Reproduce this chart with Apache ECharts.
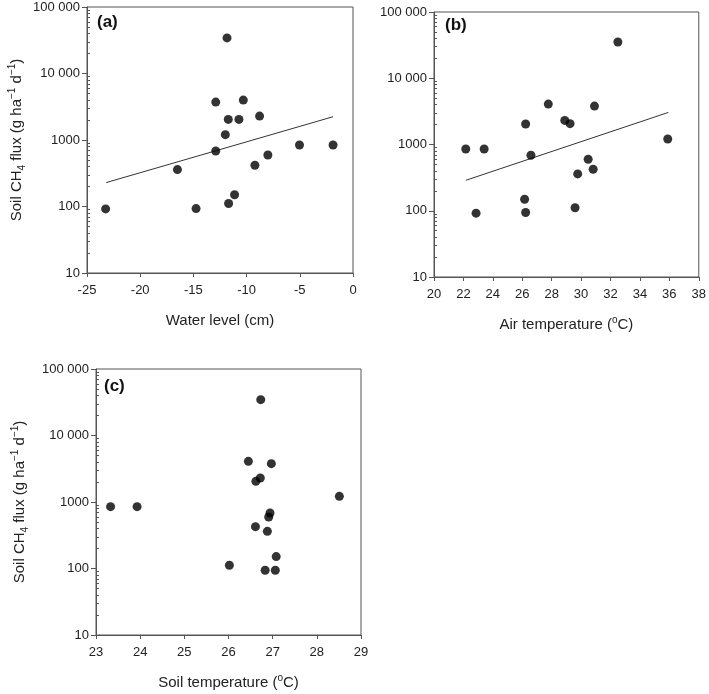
<!DOCTYPE html>
<html>
<head>
<meta charset="utf-8">
<script src="https://cdn.jsdelivr.net/npm/echarts@6/dist/echarts.min.js"></script>
<style>
html,body{margin:0;padding:0;background:#fff;}
#chart{width:709px;height:694px;}
</style>
</head>
<body>
<div id="chart"></div>
<script>
// ---- data ----
const waterLevel = [-23.25, -16.5, -14.75, -12.9, -12.9, -12.0, -11.84, -11.72, -11.69, -11.13, -10.72, -10.31, -9.22, -8.78, -8.0, -5.03, -1.875];
const fluxA      = [92, 359, 93, 3715, 684, 1202, 34300, 2042, 111, 150, 2042, 3981, 417, 2291, 596, 841, 841];
const fitAx = [-23.19, -1.875];
const fitAy = [229, 2239];

const airTemp = [22.16, 23.41, 22.86, 26.23, 26.16, 26.23, 26.59, 27.77, 28.89, 29.25, 29.59, 29.77, 30.48, 30.82, 30.91, 32.5, 35.89];
const fluxB   = [855, 855, 92, 2037, 149, 94, 687, 4074, 2311, 2061, 111, 360, 598, 423, 3802, 35300, 1211];
const fitBx = [22.18, 35.93];
const fitBy = [289, 3048];

const soilTemp = [23.33, 23.93, 26.02, 26.45, 26.73, 26.62, 26.72, 26.97, 26.94, 26.91, 26.61, 26.88, 27.08, 26.83, 27.06, 28.51];
const fluxC    = [851, 851, 112, 4090, 34600, 2046, 2296, 3770, 684, 595, 426, 362, 151, 94, 94, 1217];

const yTickLabels = {10: '10', 100: '100', 1000: '1000', 10000: '10 000', 100000: '100 000'};
const minorTickVals = [20,30,40,50,60,70,80,90,200,300,400,500,600,700,800,900,2000,3000,4000,5000,6000,7000,8000,9000,20000,30000,40000,50000,60000,70000,80000,90000];

const panelLabels = ['(a)', '(b)', '(c)'];
const xTitles = ['Water level (cm)', 'Air temperature ({sup|o}C)', 'Soil temperature ({sup|o}C)'];
const yTitle = 'Soil CH{sub|4} flux (g ha{sup|\u22121} d{sup|\u22121})';

// ---- styling ----
const FONT = 'Liberation Sans, Arial, sans-serif';
const AX = '#555';
const grids = [
  {left: 87, top: 7, width: 266, height: 266},
  {left: 434, top: 12, width: 266, height: 265},
  {left: 96, top: 369, width: 265, height: 266}
];
const richTitle = {
  sup: {fontSize: 10, verticalAlign: 'top', lineHeight: 10, fontFamily: FONT, color: '#222'},
  sub: {fontSize: 10, verticalAlign: 'bottom', lineHeight: 10, fontFamily: FONT, color: '#222'}
};

function xAxis(i, min, max, interval, name) {
  return {
    type: 'value', gridIndex: i, min: min, max: max, interval: interval, position: 'bottom',
    name: name, nameLocation: 'middle', nameGap: 38,
    nameTextStyle: {fontSize: 15, fontFamily: FONT, color: '#222', lineHeight: 20, rich: richTitle},
    axisLine: {show: true, onZero: false, lineStyle: {color: AX, width: 1}},
    axisTick: {show: true, inside: false, length: 4, lineStyle: {color: AX}},
    axisLabel: {fontSize: 13, fontFamily: FONT, color: '#222', margin: 11},
    splitLine: {show: false}
  };
}
function yAxis(i, name, gap) {
  return {
    type: 'log', logBase: 10, gridIndex: i, min: 10, max: 100000, position: 'left', offset: 0,
    name: name || '', nameLocation: 'middle', nameGap: gap || 0,
    nameTextStyle: {fontSize: 15, fontFamily: FONT, color: '#222', lineHeight: 20, rich: richTitle},
    axisLine: {show: true, onZero: false, lineStyle: {color: AX, width: 1}},
    axisTick: {show: true, inside: false, length: 5, lineStyle: {color: AX}},
    axisLabel: {fontSize: 13, fontFamily: FONT, color: '#222', margin: 7,
      formatter: v => yTickLabels[Math.round(v)] || ''},
    splitLine: {show: false}
  };
}
function yMinor(i) {
  return {
    type: 'log', logBase: 10, gridIndex: i, min: 10, max: 100000, position: 'left', offset: 0,
    axisLine: {show: false, onZero: false},
    axisLabel: {show: false},
    axisTick: {show: true, inside: true, length: 3, customValues: minorTickVals, lineStyle: {color: AX}},
    splitLine: {show: false}
  };
}

function scatter(xi, yi, xs, ys) {
  return {type: 'scatter', xAxisIndex: xi, yAxisIndex: yi, symbol: 'circle', symbolSize: 9,
    itemStyle: {color: '#000'}, data: xs.map((x, k) => [x, ys[k]]), z: 3};
}
function fit(xi, yi, xs, ys) {
  return {type: 'line', xAxisIndex: xi, yAxisIndex: yi, showSymbol: false, symbol: 'none',
    lineStyle: {color: '#333', width: 1}, data: xs.map((x, k) => [x, ys[k]]), z: 2};
}

const option = {
  backgroundColor: '#fff',
  animation: false,
  title: [
    {text: panelLabels[0], left: 97, top: 14},
    {text: panelLabels[1], left: 445, top: 17},
    {text: panelLabels[2], left: 104, top: 378}
  ].map(t => Object.assign(t, {padding: 0, textStyle: {fontSize: 17, fontWeight: 'bold', fontFamily: FONT, color: '#111'}})),
  grid: grids.map(g => Object.assign({show: true, borderColor: AX, borderWidth: 1, backgroundColor: 'transparent'}, g)),
  xAxis: [
    xAxis(0, -25, 0, 5, xTitles[0]),
    xAxis(1, 20, 38, 2, xTitles[1]),
    xAxis(2, 23, 29, 1, xTitles[2])
  ],
  yAxis: [
    yAxis(0, yTitle, 60),
    yMinor(0),
    yAxis(1, '', 0),
    yMinor(1),
    yAxis(2, yTitle, 66),
    yMinor(2)
  ],
  series: [
    fit(0, 0, fitAx, fitAy),
    scatter(0, 0, waterLevel, fluxA),
    fit(1, 2, fitBx, fitBy),
    scatter(1, 2, airTemp, fluxB),
    scatter(2, 4, soilTemp, fluxC)
  ]
};

const chart = echarts.init(document.getElementById('chart'), null, {renderer: 'canvas'});
chart.setOption(option);
</script>
</body>
</html>
